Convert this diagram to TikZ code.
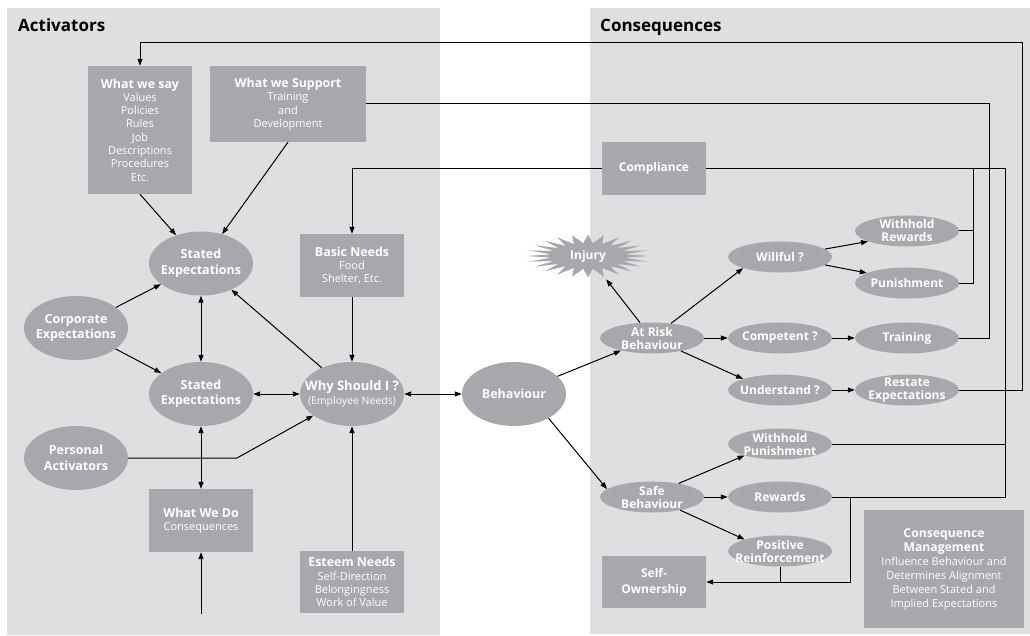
\documentclass[tikz,border=0pt]{standalone}
\usepackage{fontspec}
\setmainfont{Open Sans}
\usetikzlibrary{arrows.meta,shapes.geometric}
\definecolor{panelgray}{HTML}{DEDFE0}
\definecolor{nodegray}{HTML}{A6A8AB}
\newcommand{\bx}[1]{{\fontsize{12.4}{14}\selectfont\bfseries #1}}
\begin{document}
\begin{tikzpicture}[x=1pt,y=-1pt,
  panel/.style={fill=panelgray},
  title/.style={font=\fontsize{17}{18}\selectfont\bfseries, inner sep=0pt},
  box/.style={rectangle, fill=nodegray, text=white, align=center, inner sep=2pt, font=\fontsize{11}{13.3}\selectfont},
  bigov/.style={ellipse, fill=nodegray, text=white, align=center, inner xsep=-20pt, inner ysep=0pt, minimum width=104, minimum height=64, font=\fontsize{12.5}{15.5}\selectfont\bfseries},
  smov/.style={ellipse, fill=nodegray, text=white, align=center, inner xsep=-20pt, inner ysep=-5pt, minimum width=104, minimum height=31, font=\fontsize{12}{13}\selectfont\bfseries},
  ln/.style={draw, line width=1pt},
  arr/.style={draw, line width=1pt, -{Triangle[length=7pt,width=5pt]}},
  dbl/.style={draw, line width=1pt, {Triangle[length=7pt,width=5pt]}-{Triangle[length=7pt,width=5pt]}}
]
\useasboundingbox (0,0) rectangle (1030,636);
\fill[panel] (7,8) rectangle (440,635);
\fill[panel] (590,8) rectangle (1030,634);
\node[title, anchor=base west] (tact) at (18,32) {Activators};
\node[title, anchor=base west] (tcon) at (600,32) {Consequences};

% left boxes
\node[box, minimum width=104, minimum height=128] (say) at (140,130) {\bx{What we say}\\Values\\Policies\\Rules\\Job\\Descriptions\\Procedures\\Etc.};
\node[box, minimum width=156, minimum height=76] (sup) at (288,104) {\bx{What we Support}\\Training\\and\\Development};
\node[box, minimum width=104, minimum height=63] (basic) at (352,265.5) {\bx{Basic Needs}\\Food\\Shelter, Etc.};
\node[box, minimum width=104, minimum height=63] (wedo) at (201,520.5) {\bx{What We Do}\\Consequences};
\node[box, minimum width=104, minimum height=62] (esteem) at (352,582) {\bx{Esteem Needs}\\Self-Direction\\Belongingness\\Work of Value};

% left ellipses
\node[bigov] (stop) at (201,263.5) {Stated\\Expectations};
\node[bigov] (corp) at (76,328) {Corporate\\Expectations};
\node[bigov] (sbot) at (201,394) {Stated\\Expectations};
\node[bigov] (pa) at (76,458) {Personal\\Activators};
\node[bigov, font=\fontsize{13}{14}\selectfont] (why) at (352,394) {\textbf{Why Should I ?}\\{\fontsize{10.5}{12}\selectfont(Employee Needs)}};
\node[bigov] (beh) at (514,394) {Behaviour};

% injury star
\fill[nodegray] (649.5,256) \foreach \i in {1,...,47} { -- ({588+(0.8+0.2*cos(\i*180))*61.5*cos(\i*7.5)},{256+(0.8+0.2*cos(\i*180))*21.5*sin(\i*7.5)}) } -- cycle;
\node[ellipse, minimum width=80, minimum height=52, inner sep=0pt, text=white, font=\fontsize{12}{13}\selectfont\bfseries] (inj) at (588,256) {Injury};

% right nodes
\node[box, minimum width=104, minimum height=53, font=\fontsize{12}{14}\selectfont\bfseries] (compl) at (654,168.5) {Compliance};
\node[smov] (risk) at (652,338) {At Risk\\Behaviour};
\node[smov] (will) at (780,257) {Willful ?};
\node[smov] (wr) at (907,231) {Withhold\\Rewards};
\node[smov] (pun) at (907,283) {Punishment};
\node[smov] (comp) at (780,338) {Competent ?};
\node[smov] (train) at (907,338) {Training};
\node[smov] (und) at (780,390) {Understand ?};
\node[smov] (rest) at (907,390) {Restate\\Expectations};
\node[smov] (safe) at (652,497) {Safe\\Behaviour};
\node[smov] (wp) at (780,444) {Withhold\\Punishment};
\node[smov] (rew) at (780,497) {Rewards};
\node[smov] (pr) at (780,551) {Positive\\Reinforcement};
\node[box, minimum width=104, minimum height=52, font=\fontsize{12}{16}\selectfont\bfseries] (so) at (654,582) {Self-\\Ownership};
\node[box, minimum width=160, minimum height=118, font=\fontsize{11}{14}\selectfont] (cm) at (944,569) {{\fontsize{12.2}{16}\selectfont\bfseries Consequence}\\{\fontsize{12.2}{16}\selectfont\bfseries Management}\\Influence Behaviour and\\Determines Alignment\\Between Stated and\\Implied Expectations};

% coordinates
\coordinate (c1) at (1022,43);
\coordinate (c2) at (989,104);
\coordinate (c3) at (1005,168.5);
\coordinate (c4) at (973,168.5);
\coordinate (c5) at (850,582);
\coordinate (pbend) at (237,458);
\coordinate (wdin) at (201,614);

% left connectors
\draw[arr] (say.south) -- (stop);
\draw[arr] (sup.south) -- (stop);
\draw[arr] (corp) -- (stop);
\draw[arr] (corp) -- (sbot);
\draw[dbl] (stop.south) -- (sbot.north);
\draw[dbl] (sbot.south) -- (wedo.north);
\draw[dbl] (sbot.east) -- (why.west);
\draw[arr] (why) -- (stop);
\draw[arr] (pa.east) -- (pbend) -- (why);
\draw[arr] (basic.south) -- (why.north);
\draw[arr] (esteem.north) -- (why.south);
\draw[arr] (wdin) -- (wedo.south);
\draw[dbl] (why.east) -- (beh.west);

% right connectors
\draw[arr] (beh) -- (risk);
\draw[arr] (beh.-35) -- (safe.170);
\draw[arr] (risk) -- (inj);
\draw[arr] (risk) -- (will.south west);
\draw[arr] (risk.east) -- (comp.west);
\draw[arr] (risk) -- (und.north west);
\draw[arr] (will.10) -- (wr.195);
\draw[arr] (will.-10) -- (pun.166);
\draw[arr] (comp.east) -- (train.west);
\draw[arr] (und.east) -- (rest.west);
\draw[arr] (safe.27) -- (wp.198);
\draw[arr] (safe.east) -- (rew.west);
\draw[arr] (safe.-25) -- (pr.162);

% feedback lines
\draw[arr] (rest.east) -| (c1) -| (say.north);
\draw[ln] (train.east) -| (c2) -- (sup.east);
\draw[ln] (compl.east) -- (c3) |- (rew.east);
\draw[ln] (wr.east) -- (wr.east -| c4);
\draw[ln] (pun.east) -| (c4);
\draw[ln] (wp.east) -- (wp.east -| c3);
\draw[arr] (rew.east -| c5) |- (so.east);
\draw[ln] (pr.south) -- (pr.south |- so.east);
\draw[arr] (compl.west) -| (basic.north);
\end{tikzpicture}
\end{document}
